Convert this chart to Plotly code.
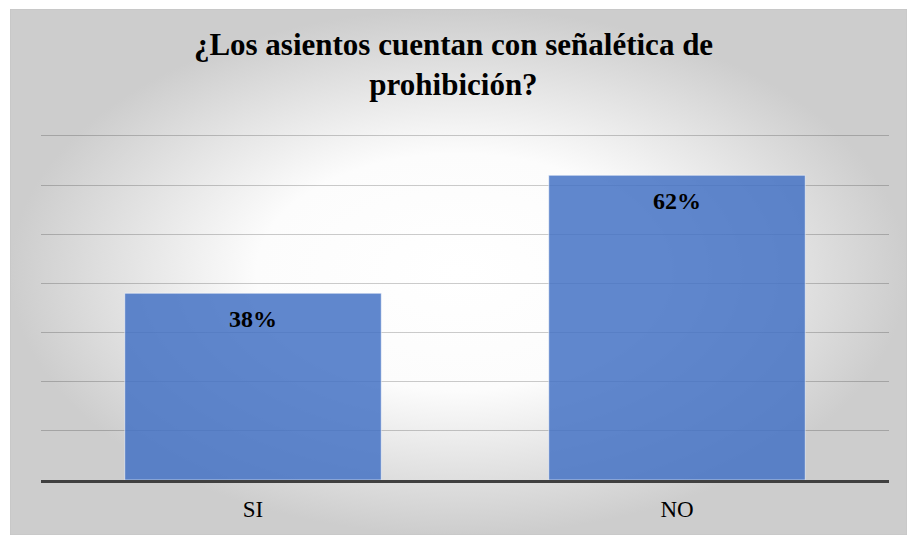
import plotly.graph_objects as go

# Survey answers and their shares (%)
categories = ["SI", "NO"]
values = [38, 62]
value_labels = ["38%", "62%"]
title_lines = ["¿Los asientos cuentan con señalética de", "prohibición?"]

SERIF = "Liberation Serif"

W, H = 907, 535
# plot-area edges in pixels (left, right, top, bottom)
PL, PR, PT, PB = 41, 889, 133, 480
Y_MAX = 70.6
# grey panel behind the chart
PANEL_L, PANEL_T = 10, 9

fig = go.Figure()

# Panel background: radial gradient, white centre fading to grey
fig.add_trace(go.Scatter(
    x=[0, 1, 1, 0, 0], y=[0, 0, 1, 1, 0],
    mode="lines", fill="toself",
    line=dict(color="#c4c4c4", width=1),
    fillgradient=dict(type="radial",
                      colorscale=[[0, "#ffffff"], [0.45, "#fcfcfc"], [1, "#cdcdcd"]]),
    hoverinfo="skip", showlegend=False,
    xaxis="x", yaxis="y",
))

fig.add_trace(go.Bar(
    x=categories,
    y=values,
    marker=dict(color="rgba(68,114,196,0.85)",
                line=dict(color="rgba(255,255,255,0.55)", width=1)),
    hoverinfo="skip", showlegend=False,
    xaxis="x2", yaxis="y2",
))

for cat, val, lab in zip(categories, values, value_labels):
    fig.add_annotation(
        x=cat, y=val, text="<b>" + lab + "</b>", showarrow=False,
        xref="x2", yref="y2", yanchor="middle", yshift=-26,
        font=dict(family=SERIF, size=24, color="#000000"),
    )

fig.update_layout(
    width=W, height=H,
    margin=dict(l=0, r=0, t=0, b=0),
    paper_bgcolor="#ffffff",
    plot_bgcolor="rgba(0,0,0,0)",
    bargap=0.395,
    showlegend=False,
    title=dict(
        text="<b>" + "<br>".join(title_lines) + "</b>",
        x=0.5, xanchor="center", xref="container",
        y=1 - 55 / H, yanchor="top", yref="container",
        font=dict(family=SERIF, size=31, color="#000000"),
    ),
    xaxis=dict(domain=[PANEL_L / W, 1], range=[0, 1], visible=False,
               automargin=False, fixedrange=True),
    yaxis=dict(domain=[0, 1 - PANEL_T / H], range=[0, 1], visible=False,
               automargin=False, fixedrange=True),
    xaxis2=dict(
        domain=[PL / W, PR / W], anchor="y2",
        showline=True, linecolor="#404040", linewidth=3, automargin=False,
        showgrid=False, ticks="outside", ticklen=6, tickcolor="rgba(0,0,0,0)",
        tickfont=dict(family=SERIF, size=23, color="#000000"),
    ),
    yaxis2=dict(
        domain=[1 - PB / H, 1 - PT / H], anchor="x2",
        range=[0, Y_MAX], dtick=10, showticklabels=False, zeroline=False,
        automargin=False,
        showgrid=True, gridcolor="rgba(0,0,0,0.2)", gridwidth=1,
    ),
)

fig.write_html("out.html")
